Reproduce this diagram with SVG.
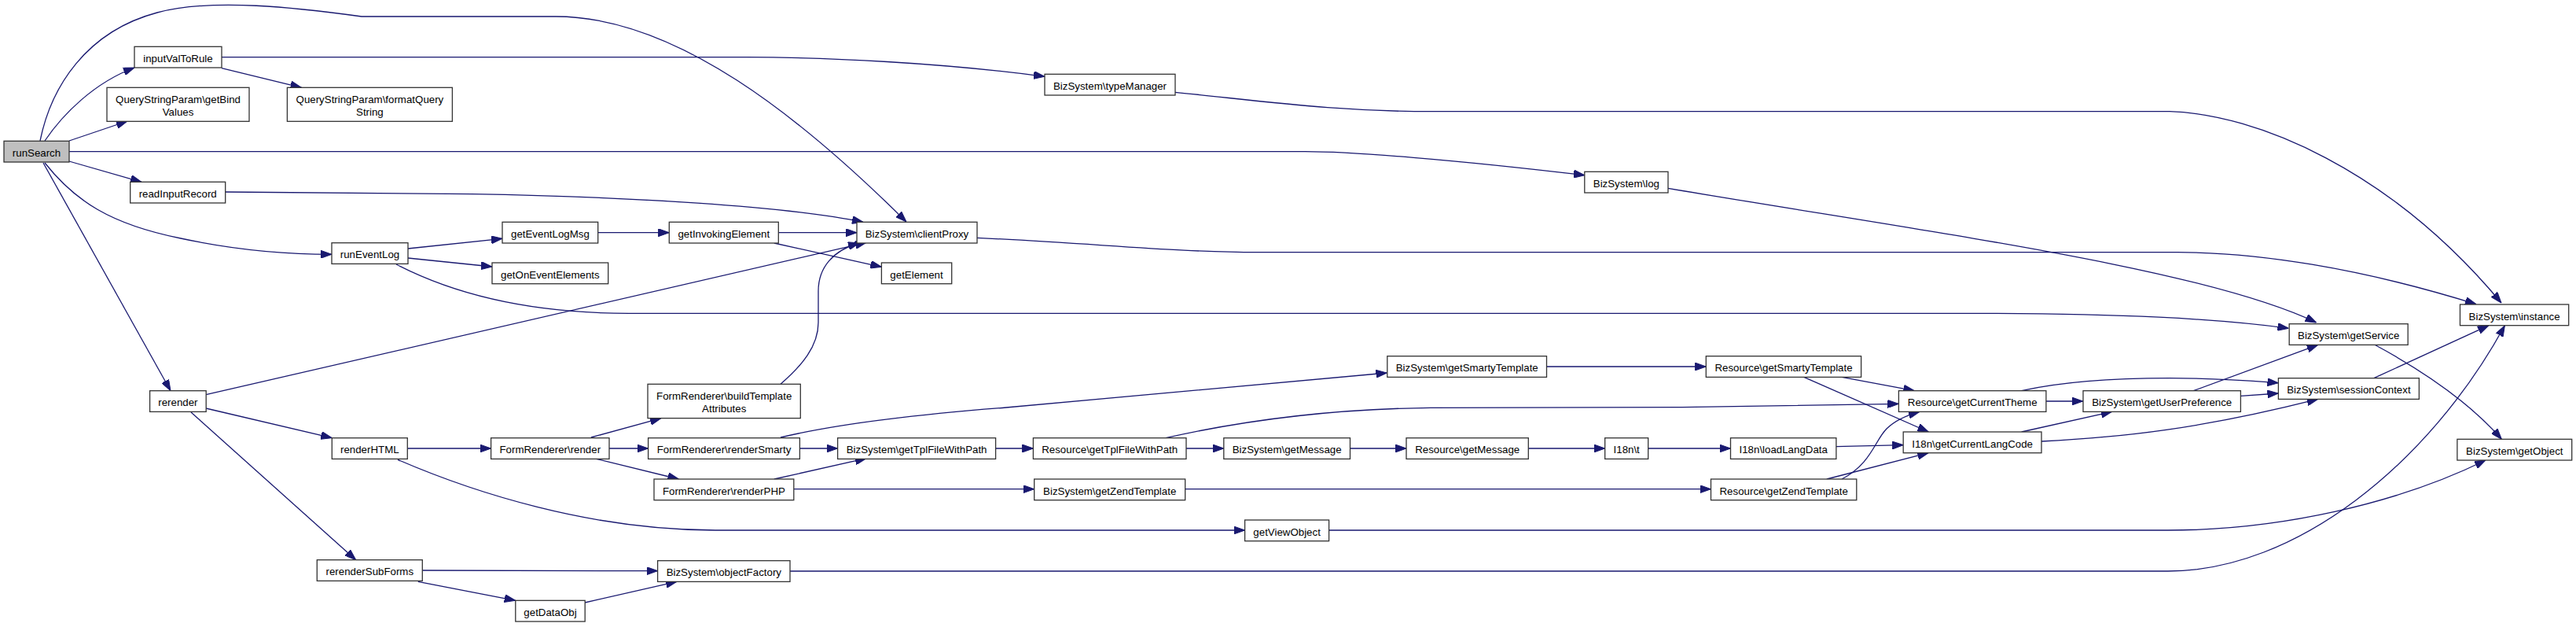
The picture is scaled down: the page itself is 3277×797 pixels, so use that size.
<svg xmlns="http://www.w3.org/2000/svg" width="3277" height="797" viewBox="0 0 3277 797">
<style>
.node rect{fill:#fff;stroke:#333;stroke-width:1.3}
.node.root rect{fill:#bfbfbf}
.node text{font-family:"Liberation Sans",Arial,Helvetica,sans-serif;font-size:13.3px;text-anchor:middle;fill:#000}
.edge{fill:none;stroke:#191970;stroke-width:1.3;marker-end:url(#arr)}
</style>
<defs>
<marker id="arr" viewBox="0 0 14 10" refX="14" refY="5" markerWidth="14" markerHeight="10" markerUnits="userSpaceOnUse" orient="auto">
<path d="M0,0 L14,5 L0,10 z" fill="#191970" stroke="#191970" stroke-width="1"/>
</marker>
</defs>
<rect width="3277" height="797" fill="#fff"/>
<g id="edges">
<path class="edge" d="M51,179 C65,110 110,40 200,16 C270,-3 380,10 460,21 L707,21 C860,21 1020,150 1153,282"/>
<path class="edge" d="M57,179 C80,145 120,105 171,86"/>
<path class="edge" d="M88,179 L162,154"/>
<path class="edge" d="M88,192.7 L1660,192.7 C1720,192.7 1850,203 2016,222.7"/>
<path class="edge" d="M88,205 L180,231.3"/>
<path class="edge" d="M57,207 C95,255 140,285 230,303 C300,318 360,323.3 422,323.3"/>
<path class="edge" d="M55,207 L217,496.7"/>
<path class="edge" d="M282,86.7 L383.5,111.3"/>
<path class="edge" d="M282,72.7 L950,72.7 C1050,72.7 1200,80 1329,97.3"/>
<path class="edge" d="M286.7,244 L600,246.7 C800,250 1000,262 1098,282.3"/>
<path class="edge" d="M519,316 L639,303.3"/>
<path class="edge" d="M519,328 L626,339"/>
<path class="edge" d="M504,336 C560,365 650,398.3 800,398.3 L2500,398.3 C2700,398.3 2820,405 2911.4,417.3"/>
<path class="edge" d="M760.7,295.7 L851.3,295.7"/>
<path class="edge" d="M990.2,295.7 L1090,295.7"/>
<path class="edge" d="M984.8,309 L1121.4,339.3"/>
<path class="edge" d="M262,501.7 L1102,308.3"/>
<path class="edge" d="M993,488.3 C1020,465 1041,440 1041,410 L1041,370 C1041,340 1060,318 1093,309"/>
<path class="edge" d="M1243,302.3 C1400,310 1500,320.7 1600,320.7 L2770,320.7 C2870,320.7 3000,340 3150,386.7"/>
<path class="edge" d="M1495,117.3 C1620,130 1700,141.7 1820,141.7 L2760,141.7 C2870,145 3040,215 3182,385"/>
<path class="edge" d="M2122,239.3 C2450,295 2800,340 2946.7,410"/>
<path class="edge" d="M262,519 L422.3,556.7"/>
<path class="edge" d="M243,524 L452.7,711.7"/>
<path class="edge" d="M518.4,570 L624.6,570"/>
<path class="edge" d="M506,584.3 C600,625 750,674 910,674 L1583.6,674"/>
<path class="edge" d="M537.4,725 L836.6,725.7"/>
<path class="edge" d="M531.8,739.3 L655.8,763.3"/>
<path class="edge" d="M744,766 L861,739.3"/>
<path class="edge" d="M751.8,556 L841,531.7"/>
<path class="edge" d="M775,570 L824.6,570"/>
<path class="edge" d="M758.5,583.3 L863.4,609"/>
<path class="edge" d="M1017.4,570 L1065.6,570"/>
<path class="edge" d="M984.8,609 L1102,582.7"/>
<path class="edge" d="M993,556 C1060,540 1150,528 1280,518 L1764.4,474"/>
<path class="edge" d="M1009.8,621.7 L1315.7,621.7"/>
<path class="edge" d="M1266.5,570 L1314.4,570"/>
<path class="edge" d="M1005,726 L2758,726 C2920,726 3090,590 3186.4,413.7"/>
<path class="edge" d="M1509,570 L1556.8,570"/>
<path class="edge" d="M1483,556.7 C1570,537 1680,520 1820,518.3 L2140,517.7 L2415.4,513.3"/>
<path class="edge" d="M1717.5,570 L1789,570"/>
<path class="edge" d="M1944.3,570 L2041.7,570"/>
<path class="edge" d="M1507.7,621.7 L2176.5,621.7"/>
<path class="edge" d="M1967.5,466 L2170.3,466"/>
<path class="edge" d="M2096.6,570 L2201.5,570"/>
<path class="edge" d="M2335.9,567.7 L2421.2,565.7"/>
<path class="edge" d="M2343,479.3 L2435.4,496.7"/>
<path class="edge" d="M2294.8,479.3 L2453.3,549"/>
<path class="edge" d="M2343,609 C2380,590 2385,560 2400,545 C2410,535 2425,528 2442,523.3"/>
<path class="edge" d="M2323.8,609 L2453.3,575.7"/>
<path class="edge" d="M2602.9,510 L2649.7,510"/>
<path class="edge" d="M2571.6,496.7 C2620,486 2680,480.7 2760,480.7 C2820,480.7 2860,484 2898.4,486.7"/>
<path class="edge" d="M2571.6,549 L2686.7,523.3"/>
<path class="edge" d="M2597,561 C2700,556 2800,545 2948.8,507.3"/>
<path class="edge" d="M2790.3,496.7 L2948.8,438.3"/>
<path class="edge" d="M2850.4,503.3 L2898.4,500"/>
<path class="edge" d="M3019.9,480.7 L3166,413.7"/>
<path class="edge" d="M3021,438.3 C3080,470 3140,510 3182.4,558.3"/>
<path class="edge" d="M1690.7,674 L2757.8,674 C2900,674 3050,640 3162,585"/>
</g>
<g id="n_runSearch" class="node root"><rect x="5" y="179.3" width="83" height="26.7"/><text x="46.5" y="198.8">runSearch</text></g>
<g id="n_inputValToRule" class="node"><rect x="171" y="59.3" width="111" height="26.7"/><text x="226.5" y="78.8">inputValToRule</text></g>
<g id="n_getBindValues" class="node"><rect x="136" y="111.3" width="181" height="43"/><text x="226.5" y="131.3">QueryStringParam\getBind</text><text x="226.5" y="147.3">Values</text></g>
<g id="n_formatQueryString" class="node"><rect x="365.4" y="111.3" width="210" height="43"/><text x="470.4" y="131.3">QueryStringParam\formatQuery</text><text x="470.4" y="147.3">String</text></g>
<g id="n_readInputRecord" class="node"><rect x="165.7" y="231.3" width="121" height="26.7"/><text x="226.2" y="250.8">readInputRecord</text></g>
<g id="n_runEventLog" class="node"><rect x="422" y="308.7" width="97" height="26.7"/><text x="470.5" y="328.2">runEventLog</text></g>
<g id="n_rerender" class="node"><rect x="190.6" y="496.7" width="71.6" height="26.7"/><text x="226.4" y="516.2">rerender</text></g>
<g id="n_renderHTML" class="node"><rect x="422.3" y="556.7" width="96" height="26.7"/><text x="470.3" y="576.2">renderHTML</text></g>
<g id="n_rerenderSubForms" class="node"><rect x="403.3" y="711.7" width="134" height="26.7"/><text x="470.3" y="731.2">rerenderSubForms</text></g>
<g id="n_getEventLogMsg" class="node"><rect x="639" y="282.3" width="121.7" height="26.7"/><text x="699.9" y="301.8">getEventLogMsg</text></g>
<g id="n_getOnEventElements" class="node"><rect x="626" y="334" width="147.7" height="26.7"/><text x="699.9" y="353.5">getOnEventElements</text></g>
<g id="n_getInvokingElement" class="node"><rect x="851.3" y="282.3" width="139" height="26.7"/><text x="920.8" y="301.8">getInvokingElement</text></g>
<g id="n_clientProxy" class="node"><rect x="1090" y="282.3" width="153" height="26.7"/><text x="1166.5" y="301.8">BizSystem\clientProxy</text></g>
<g id="n_getElement" class="node"><rect x="1121.4" y="334" width="89.3" height="26.7"/><text x="1166" y="353.5">getElement</text></g>
<g id="n_fr_render" class="node"><rect x="624.6" y="556.7" width="150.4" height="26.7"/><text x="699.8" y="576.2">FormRenderer\render</text></g>
<g id="n_fr_buildTemplateAttributes" class="node"><rect x="824" y="488.3" width="194.3" height="43.3"/><text x="921.2" y="508">FormRenderer\buildTemplate</text><text x="921.2" y="524">Attributes</text></g>
<g id="n_fr_renderSmarty" class="node"><rect x="824.6" y="556.7" width="192.8" height="26.7"/><text x="921" y="576.2">FormRenderer\renderSmarty</text></g>
<g id="n_fr_renderPHP" class="node"><rect x="832" y="609" width="177.8" height="26.7"/><text x="920.9" y="628.5">FormRenderer\renderPHP</text></g>
<g id="n_bs_getTplFileWithPath" class="node"><rect x="1065.6" y="556.7" width="201" height="26.7"/><text x="1166.1" y="576.2">BizSystem\getTplFileWithPath</text></g>
<g id="n_objectFactory" class="node"><rect x="836.6" y="712.7" width="168.4" height="26.7"/><text x="920.8" y="732.2">BizSystem\objectFactory</text></g>
<g id="n_getDataObj" class="node"><rect x="655.8" y="763.3" width="88.4" height="26.7"/><text x="700" y="782.8">getDataObj</text></g>
<g id="n_typeManager" class="node"><rect x="1329" y="94.3" width="166" height="26.7"/><text x="1412" y="113.8">BizSystem\typeManager</text></g>
<g id="n_bs_getSmartyTemplate" class="node"><rect x="1764.8" y="452.7" width="202.7" height="26.7"/><text x="1866.2" y="472.2">BizSystem\getSmartyTemplate</text></g>
<g id="n_res_getTplFileWithPath" class="node"><rect x="1314.4" y="556.7" width="194.6" height="26.7"/><text x="1411.7" y="576.2">Resource\getTplFileWithPath</text></g>
<g id="n_bs_getMessage" class="node"><rect x="1556.8" y="556.7" width="160.7" height="26.7"/><text x="1637.2" y="576.2">BizSystem\getMessage</text></g>
<g id="n_res_getMessage" class="node"><rect x="1789" y="556.7" width="155.3" height="26.7"/><text x="1866.7" y="576.2">Resource\getMessage</text></g>
<g id="n_bs_getZendTemplate" class="node"><rect x="1315.7" y="609" width="192" height="26.7"/><text x="1411.7" y="628.5">BizSystem\getZendTemplate</text></g>
<g id="n_getViewObject" class="node"><rect x="1583.6" y="661" width="107" height="26.7"/><text x="1637.1" y="680.5">getViewObject</text></g>
<g id="n_log" class="node"><rect x="2015.8" y="218.3" width="106.2" height="26.7"/><text x="2068.9" y="237.8">BizSystem\log</text></g>
<g id="n_res_getSmartyTemplate" class="node"><rect x="2170.3" y="452.7" width="197.3" height="26.7"/><text x="2269" y="472.2">Resource\getSmartyTemplate</text></g>
<g id="n_i18n_t" class="node"><rect x="2041.7" y="556.7" width="55" height="26.7"/><text x="2069.2" y="576.2">I18n\t</text></g>
<g id="n_loadLangData" class="node"><rect x="2201.5" y="556.7" width="134.4" height="26.7"/><text x="2268.7" y="576.2">I18n\loadLangData</text></g>
<g id="n_res_getZendTemplate" class="node"><rect x="2176.5" y="609" width="185.3" height="26.7"/><text x="2269.2" y="628.5">Resource\getZendTemplate</text></g>
<g id="n_getCurrentTheme" class="node"><rect x="2415.4" y="496.7" width="187.5" height="26.7"/><text x="2509.2" y="516.2">Resource\getCurrentTheme</text></g>
<g id="n_getCurrentLangCode" class="node"><rect x="2421.2" y="549" width="175.8" height="26.7"/><text x="2509.1" y="568.5">I18n\getCurrentLangCode</text></g>
<g id="n_getUserPreference" class="node"><rect x="2650" y="496.7" width="200.4" height="26.7"/><text x="2750.2" y="516.2">BizSystem\getUserPreference</text></g>
<g id="n_sessionContext" class="node"><rect x="2898.4" y="480.7" width="179" height="26.7"/><text x="2987.9" y="500.2">BizSystem\sessionContext</text></g>
<g id="n_getService" class="node"><rect x="2912.2" y="411.7" width="151" height="26.7"/><text x="2987.7" y="431.2">BizSystem\getService</text></g>
<g id="n_instance" class="node"><rect x="3129.5" y="387" width="138.2" height="26.7"/><text x="3198.6" y="406.5">BizSystem\instance</text></g>
<g id="n_getObject" class="node"><rect x="3125.9" y="558.3" width="145.8" height="26.7"/><text x="3198.8" y="577.8">BizSystem\getObject</text></g>
</svg>
